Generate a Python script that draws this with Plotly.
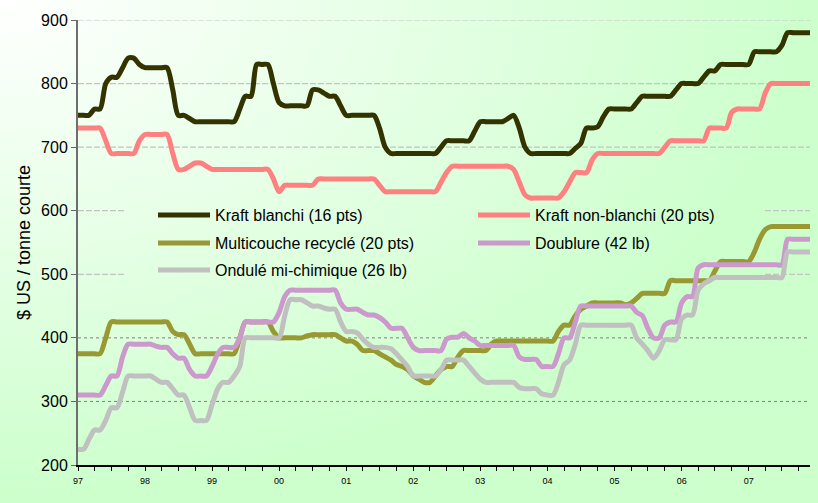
import base64
import pandas as pd
import plotly.graph_objects as go

# Prix mensuels, janvier 1997 à décembre 2007 ($ US / tonne courte), 12 valeurs par ligne = une année
mois = pd.date_range("1997-01-01", "2007-12-01", freq="MS")

kraft_blanchi = [
    750, 750, 750, 760, 760, 800, 810, 810, 825, 840, 840, 830,
    825, 825, 825, 825, 825, 790, 750, 750, 745, 740, 740, 740,
    740, 740, 740, 740, 740, 760, 780, 780, 830, 830, 830, 800,
    770, 765, 765, 765, 765, 765, 790, 790, 785, 780, 780, 765,
    750, 750, 750, 750, 750, 750, 730, 700, 690, 690, 690, 690,
    690, 690, 690, 690, 690, 700, 710, 710, 710, 710, 710, 725,
    740, 740, 740, 740, 740, 745, 750, 730, 700, 690, 690, 690,
    690, 690, 690, 690, 690, 698, 706, 730, 730, 732, 748, 760,
    760, 760, 760, 760, 770, 780, 780, 780, 780, 780, 780, 790,
    800, 800, 800, 800, 810, 820, 820, 830, 830, 830, 830, 830,
    830, 850, 850, 850, 850, 850, 860, 880, 880, 880, 880, 880,
]
kraft_non_blanchi = [
    730, 730, 730, 730, 730, 710, 690, 690, 690, 690, 690, 710,
    720, 720, 720, 720, 720, 690, 665, 665, 670, 675, 675, 670,
    665, 665, 665, 665, 665, 665, 665, 665, 665, 665, 665, 650,
    630, 640, 640, 640, 640, 640, 640, 650, 650, 650, 650, 650,
    650, 650, 650, 650, 650, 650, 640, 630, 630, 630, 630, 630,
    630, 630, 630, 630, 630, 645, 660, 670, 670, 670, 670, 670,
    670, 670, 670, 670, 670, 670, 665, 645, 625, 620, 620, 620,
    620, 620, 620, 630, 645, 660, 660, 660, 680, 690, 690, 690,
    690, 690, 690, 690, 690, 690, 690, 690, 690, 700, 710, 710,
    710, 710, 710, 710, 710, 730, 730, 730, 730, 755, 760, 760,
    760, 760, 760, 785, 800, 800, 800, 800, 800, 800, 800, 800,
]
multicouche = [
    375, 375, 375, 375, 375, 400, 425, 425, 425, 425, 425, 425,
    425, 425, 425, 425, 425, 410, 405, 405, 390, 375, 375, 375,
    375, 375, 375, 375, 375, 400, 425, 425, 425, 425, 425, 410,
    400, 400, 400, 400, 400, 403, 405, 405, 405, 405, 405, 400,
    395, 395, 390, 380, 380, 380, 375, 370, 365, 358, 355, 350,
    340, 335, 330, 330, 340, 350, 355, 355, 370, 380, 380, 380,
    380, 380, 390, 395, 395, 395, 395, 395, 395, 395, 395, 395,
    395, 395, 410, 420, 420, 435, 445, 450, 455, 455, 455, 455,
    455, 455, 452, 455, 462, 470, 470, 470, 470, 470, 490, 490,
    490, 490, 490, 490, 490, 490, 505, 520, 520, 520, 520, 520,
    520, 535, 555, 570, 575, 575, 575, 575, 575, 575, 575, 575,
]
doublure = [
    310, 310, 310, 310, 310, 325, 340, 340, 370, 390, 390, 390,
    390, 390, 387, 385, 385, 375, 368, 368, 350, 340, 340, 340,
    355, 375, 385, 385, 385, 400, 425, 425, 425, 425, 425, 425,
    440, 465, 475, 475, 475, 475, 475, 475, 475, 475, 475, 455,
    445, 445, 445, 440, 436, 436, 432, 425, 415, 415, 415, 400,
    385, 380, 380, 380, 380, 380, 398, 401, 401, 407, 400, 395,
    388, 388, 388, 388, 388, 388, 388, 370, 366, 366, 366, 355,
    355, 355, 375, 400, 400, 425, 450, 450, 450, 450, 450, 450,
    450, 450, 450, 450, 440, 435, 415, 400, 400, 420, 425, 425,
    455, 465, 465, 510, 515, 515, 515, 515, 515, 515, 515, 515,
    515, 515, 515, 515, 515, 515, 515, 555, 555, 555, 555, 555,
]
ondule = [
    225, 225, 240, 255, 255, 270, 290, 290, 315, 340, 340, 340,
    340, 340, 335, 330, 330, 320, 310, 310, 290, 270, 270, 270,
    295, 320, 330, 330, 340, 355, 400, 400, 400, 400, 400, 400,
    400, 435, 460, 460, 460, 455, 450, 450, 447, 445, 445, 425,
    410, 410, 408, 398, 390, 385, 385, 385, 383, 375, 365, 355,
    340, 340, 340, 340, 340, 350, 365, 365, 365, 365, 355, 345,
    335, 330, 330, 330, 330, 330, 330, 322, 320, 320, 320, 312,
    310, 310, 330, 358, 365, 390, 420, 420, 420, 420, 420, 420,
    420, 420, 420, 420, 400, 390, 380, 368, 380, 397, 397, 397,
    430, 436, 436, 475, 485, 490, 495, 495, 495, 495, 495, 495,
    495, 495, 495, 495, 495, 495, 495, 535, 535, 535, 535, 535,
]

annees = ["97", "98", "99", "00", "01", "02", "03", "04", "05", "06", "07"]
ticks_annees = pd.date_range("1997-01-01", "2007-01-01", freq="YS")

series = [
    ("Kraft blanchi (16 pts)", kraft_blanchi, "#333300"),
    ("Kraft non-blanchi (20 pts)", kraft_non_blanchi, "#ff8080"),
    ("Multicouche recyclé (20 pts)", multicouche, "#999933"),
    ("Doublure (42 lb)", doublure, "#cc99cc"),
    ("Ondulé mi-chimique (26 lb)", ondule, "#c0c0c0"),
]

W, H = 818, 503
L, R, T, B = 78, 8, 20, 38
pw, ph = W - L - R, H - T - B

# une légende par entrée : (colonne px, ligne px) de chaque entrée
pos_legende = [(153, 215), (473, 215), (153, 243), (473, 243), (153, 270)]
noms_leg = ["legend", "legend2", "legend3", "legend4", "legend5"]

fig = go.Figure()
for (nom, vals, coul), leg in zip(series, noms_leg):
    fig.add_trace(go.Scatter(
        x=mois, y=vals, name=nom, mode="lines", legend=leg,
        line=dict(color=coul, width=5, shape="spline", smoothing=0.8),
    ))

# fond dégradé blanc -> vert clair
svg = (
    f"<svg xmlns='http://www.w3.org/2000/svg' width='{W}' height='{H}'>"
    "<defs><radialGradient id='g' cx='0' cy='0' r='1'>"
    "<stop offset='0' stop-color='#ffffff'/><stop offset='1' stop-color='#ccffcc'/>"
    "</radialGradient></defs>"
    f"<rect width='{W}' height='{H}' fill='url(#g)'/></svg>"
)
fond = "data:image/svg+xml;base64," + base64.b64encode(svg.encode()).decode()

# quadrillage (interrompu derrière la légende à 500 et 600)
shapes = []
for v in [900, 800, 700]:
    shapes.append(dict(type="line", xref="paper", yref="y", x0=0, x1=1, y0=v, y1=v,
                       line=dict(color="#c4c4c4", width=1.2, dash="6px,2px"), layer="below"))
for v in [400, 300]:
    shapes.append(dict(type="line", xref="paper", yref="y", x0=0, x1=1, y0=v, y1=v,
                       line=dict(color="#8a7a8a", width=1, dash="dot"), layer="below"))
for v in [600, 500]:
    for a, b in [(0, (125 - L) / pw), ((765 - L) / pw, 1)]:
        shapes.append(dict(type="line", xref="paper", yref="y", x0=a, x1=b, y0=v, y1=v,
                           line=dict(color="#c4c4c4", width=1.2, dash="6px,2px"), layer="below"))

police = "Liberation Sans, Arial, sans-serif"
legendes = {}
for leg, (px, py) in zip(noms_leg, pos_legende):
    legendes[leg] = dict(
        orientation="h", x=(px - L) / pw, xanchor="left",
        y=1 - (py - T) / ph, yanchor="middle",
        bgcolor="rgba(0,0,0,0)", font=dict(family=police, size=16, color="black"),
        itemwidth=52,
    )

fig.update_layout(
    width=W, height=H,
    margin=dict(l=L, r=R, t=T, b=B),
    showlegend=True,
    paper_bgcolor="#ccffcc",
    plot_bgcolor="rgba(0,0,0,0)",
    font=dict(family=police, color="black"),
    images=[dict(source=fond, xref="paper", yref="paper", x=-L / pw, y=1 + T / ph,
                 sizex=W / pw, sizey=H / ph, xanchor="left", yanchor="top",
                 sizing="stretch", layer="below")],
    shapes=shapes,
    xaxis=dict(
        range=[mois[0], mois[-1]],
        tickvals=ticks_annees, ticktext=annees,
        tickfont=dict(size=9), ticks="outside", ticklen=4, tickcolor="black",
        minor=dict(dtick="M3", tick0="1997-01-01", ticks="outside", ticklen=4, tickcolor="black"),
        showline=True, linecolor="black", linewidth=1.5,
        showgrid=False, zeroline=False, ticklabelstandoff=2,
    ),
    yaxis=dict(
        range=[200, 900], dtick=100,
        title=dict(text="$ US / tonne courte", font=dict(size=18), standoff=6),
        tickfont=dict(size=16), ticks="outside", ticklen=5, tickcolor="#666666",
        showline=True, linecolor="#6e6e6e", linewidth=2,
        showgrid=False, zeroline=False, automargin=False,
    ),
    **legendes,
)

fig.write_html("out.html", config={"displayModeBar": False},
               post_script="document.body.style.margin='0';")
